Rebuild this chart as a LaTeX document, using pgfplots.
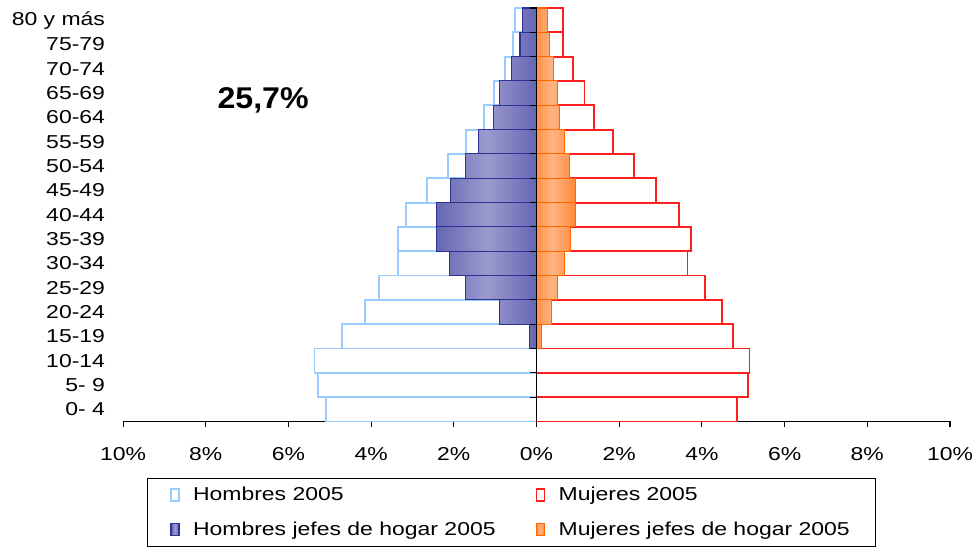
\documentclass[border=0pt]{standalone}
\usepackage{fontspec}
\setmainfont{Liberation Sans}[FakeStretch=1.23]
\newfontfamily\bigf{Liberation Sans}[FakeStretch=1.07]
\usepackage{pgfplots}
\pgfplotsset{compat=1.18}
\definecolor{hlb}{RGB}{153,204,255}
\definecolor{hdark}{RGB}{46,49,146}
\definecolor{hlight}{RGB}{155,155,208}
\definecolor{mor}{RGB}{255,102,0}
\definecolor{mlight}{RGB}{255,180,130}
\definecolor{mred}{RGB}{255,30,30}
\pgfdeclarehorizontalshading{hshade}{100bp}{color(0bp)=(hdark); color(50bp)=(hlight); color(100bp)=(hdark)}
\pgfdeclarehorizontalshading{mshade}{100bp}{color(0bp)=(mor); color(45bp)=(mlight); color(100bp)=(mor)}
\newcommand\lbl{\fontsize{14}{16}\selectfont}
\begin{document}
\begin{tikzpicture}
\useasboundingbox (-92.25pt,-95.25pt) rectangle (637.25pt,316pt);
\begin{axis}[
  scale only axis, width=620pt, height=310pt,
  xmin=-10, xmax=10, ymin=-0.5, ymax=16.5,
  axis x line*=bottom, axis y line*=left,
  y axis line style={draw=none},
  x axis line style={black, line width=0.8pt},
  xtick={-10,-8,-6,-4,-2,0,2,4,6,8,10},
  xticklabels={10\%,8\%,6\%,4\%,2\%,0\%,2\%,4\%,6\%,8\%,10\%},
  xtick align=outside, major tick length=4pt,
  xtick style={black, line width=0.8pt},
  ytick={0,...,16},
  yticklabels={0- 4,5- 9,10-14,15-19,20-24,25-29,30-34,35-39,40-44,45-49,50-54,55-59,60-64,65-69,70-74,75-79,80 y más},
  ytick style={draw=none},
  tick label style={font=\lbl},
  yticklabel style={anchor=east, xshift=-6pt},
  xticklabel style={yshift=-12pt},
  xbar, bar width=1, bar shift=0pt,
  clip=false,
  legend columns=2,
  legend cell align=left,
  legend style={at={(axis description cs:0.029,-0.1355)}, anchor=north west,
    draw=black, line width=0.8pt, font=\lbl, inner xsep=17pt, inner ysep=5pt,
    row sep=10pt,
    /tikz/every odd column/.append style={column sep=8pt},
    /tikz/every even column/.append style={column sep=8pt}},
  legend image code/.code={\draw[#1, line width=1.1pt] (0pt,-4.5pt) rectangle (6pt,4.5pt);},
]
\addplot[draw=hlb, fill=white, line width=1.4pt] coordinates {
(-5.10,0) (-5.29,1) (-5.37,2) (-4.70,3) (-4.15,4) (-3.80,5) (-3.36,6) (-3.36,7) (-3.16,8)
(-2.65,9) (-2.14,10) (-1.70,11) (-1.27,12) (-1.03,13) (-0.77,14) (-0.57,15) (-0.52,16)};
\addlegendentry{\makebox[247pt][l]{Hombres 2005}}
\addplot[draw=mred, fill=white, line width=1.4pt] coordinates {
(4.84,0) (5.11,1) (5.15,2) (4.75,3) (4.48,4) (4.08,5) (3.65,6) (3.74,7) (3.45,8)
(2.90,9) (2.35,10) (1.84,11) (1.40,12) (1.16,13) (0.89,14) (0.65,15) (0.65,16)};
\addlegendentry{Mujeres 2005}
\addplot[draw=hdark, shade, shading=hshade, line width=0.8pt] coordinates {
(-0.18,3) (-0.89,4) (-1.72,5) (-2.10,6) (-2.42,7) (-2.42,8)
(-2.07,9) (-1.72,10) (-1.40,11) (-1.05,12) (-0.89,13) (-0.61,14) (-0.40,15) (-0.33,16)};
\addlegendentry{\makebox[247pt][l]{Hombres jefes de hogar 2005}}
\addplot[draw=mor, shade, shading=mshade, line width=0.8pt] coordinates {
(0.12,3) (0.36,4) (0.50,5) (0.67,6) (0.83,7) (0.94,8)
(0.94,9) (0.79,10) (0.67,11) (0.56,12) (0.50,13) (0.42,14) (0.31,15) (0.26,16)};
\addlegendentry{Mujeres jefes de hogar 2005}
\draw[black, line width=1pt] (axis cs:0,-0.5) -- (axis cs:0,16.5);
\pgfplotsinvokeforeach{0.5,1.5,...,16.5}{\draw[black, line width=0.8pt] (axis cs:0,#1) -- ++(-5pt,0pt);}
\node[anchor=base west, inner sep=0pt, font=\bigf\bfseries\fontsize{22.5}{24}\selectfont] at (axis cs:-7.72,12.38) {25,7\%};
\end{axis}
\end{tikzpicture}
\end{document}
